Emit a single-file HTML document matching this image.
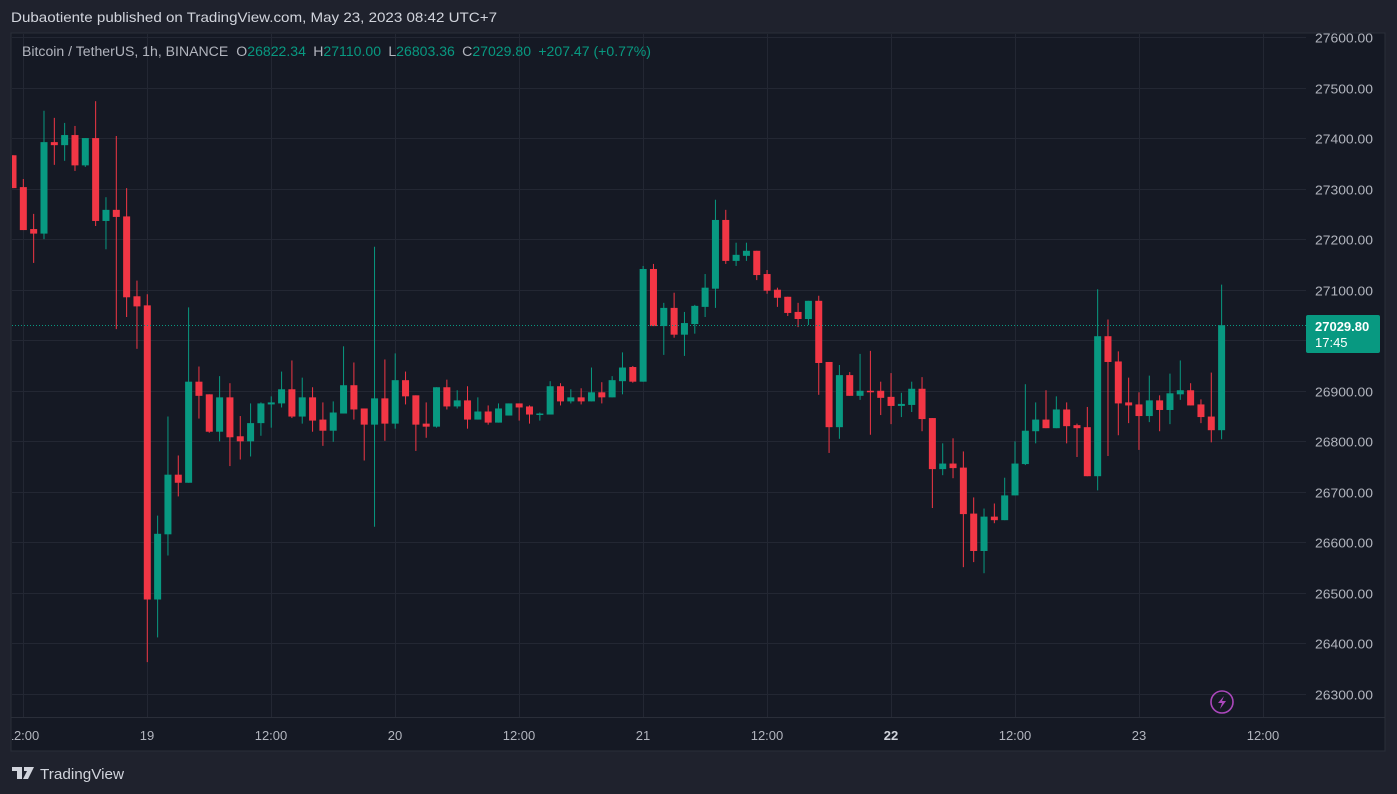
<!DOCTYPE html>
<html><head><meta charset="utf-8"><style>
html,body{margin:0;padding:0;background:#1f222d;width:1397px;height:794px;overflow:hidden;font-family:"Liberation Sans",sans-serif}
svg{position:absolute;left:0;top:0}
</style></head><body>
<svg id="s" width="1397" height="794" xmlns="http://www.w3.org/2000/svg">
<rect x="0" y="0" width="1397" height="794" fill="#1f222d"/>
<rect x="11" y="33" width="1374" height="718" fill="#151924" stroke="#2a2e39" stroke-width="1"/>
<line x1="11" y1="717.5" x2="1385" y2="717.5" stroke="#2a2e39"/>
<g id="grid"></g>
<defs><clipPath id="cp"><rect x="12" y="34" width="1294" height="683"/></clipPath></defs>
<g id="candles" clip-path="url(#cp)"></g>
<line x1="12" y1="325.5" x2="1306" y2="325.5" stroke="#089981" stroke-width="1" stroke-dasharray="1,2"/>
<g id="labels" font-family="Liberation Sans, sans-serif" font-size="13" fill="#b2b5be"></g>
<text x="11" y="22" font-size="14" fill="#d1d4dc" textLength="486" lengthAdjust="spacingAndGlyphs">Dubaotiente published on TradingView.com, May 23, 2023 08:42 UTC+7</text>
<text x="22" y="56" font-size="13.5" fill="#b2b5be" textLength="629" lengthAdjust="spacingAndGlyphs">Bitcoin / TetherUS, 1h, BINANCE  <tspan dx="4">O</tspan><tspan fill="#089981">26822.34</tspan><tspan dx="7">H</tspan><tspan fill="#089981">27110.00</tspan><tspan dx="7">L</tspan><tspan fill="#089981">26803.36</tspan><tspan dx="7">C</tspan><tspan fill="#089981">27029.80</tspan><tspan dx="7" fill="#089981">+207.47 (+0.77%)</tspan></text>
<rect x="1306" y="315" width="74" height="38" rx="2" fill="#089981"/>
<text x="1315" y="331" font-size="13" font-weight="bold" fill="#ffffff">27029.80</text>
<text x="1315" y="347" font-size="13" fill="#ffffff">17:45</text>
<circle cx="1222" cy="702" r="11" fill="none" stroke="#ab47bc" stroke-width="1.6"/>
<path d="M1224 696 L1218 703 L1222 703 L1220 709 L1226 701 L1222 701 Z" fill="#ab47bc"/>
<path d="M12 767 H22 V779 H17 V771 H12 Z M24 767 H34 L28 779 H23 L27 771 H24 Z" fill="#d1d4dc"/>
<text x="40" y="779" font-size="15" fill="#d1d4dc" textLength="84" lengthAdjust="spacingAndGlyphs">TradingView</text>
</svg>
<script>
var d=[[27366,27366,27301,27301],[27303,27319,27218,27218],[27220,27250,27153,27211],[27211,27454,27200,27392],[27392,27440,27347,27386],[27386,27430,27355,27406],[27406,27424,27335,27346],[27346,27400,27343,27400],[27400,27473,27226,27236],[27236,27283,27180,27258],
[27258,27404,27022,27244],[27245,27301,27046,27085],[27087,27118,26983,27067],[27069,27091,26363,26487],[26487,26653,26412,26617],[26616,26849,26574,26734],[26734,26772,26691,26718],[26718,27065,26718,26918],[26918,26948,26845,26890],[26893,26893,26817,26819],
[26819,26929,26800,26887],[26887,26915,26751,26808],[26810,26850,26764,26800],[26800,26875,26770,26836],[26836,26877,26811,26875],[26873,26889,26827,26877],[26875,26938,26867,26903],[26903,26960,26846,26849],[26849,26926,26835,26887],[26887,26907,26819,26841],
[26843,26877,26791,26821],[26821,26879,26799,26857],[26855,26988,26855,26911],[26911,26956,26843,26863],[26865,26865,26762,26833],[26833,27185,26631,26885],[26885,26962,26801,26835],[26835,26974,26825,26921],[26921,26938,26873,26889],[26891,26891,26781,26833],
[26835,26877,26807,26829],[26829,26907,26827,26907],[26907,26922,26863,26869],[26869,26901,26865,26881],[26881,26909,26825,26843],[26843,26887,26843,26859],[26859,26871,26833,26837],[26837,26875,26837,26865],[26851,26875,26851,26875],[26875,26875,26841,26867],
[26869,26871,26835,26853],[26853,26857,26841,26855],[26853,26919,26853,26909],[26909,26915,26871,26879],[26879,26903,26875,26887],[26887,26905,26873,26879],[26879,26946,26879,26897],[26897,26917,26875,26887],[26887,26929,26887,26921],[26919,26976,26893,26946],
[26947,26949,26916,26918],[26918,27147,26918,27141],[27141,27151,27028,27028],[27028,27074,26971,27064],[27064,27094,27005,27011],[27011,27056,26969,27034],[27032,27070,27013,27068],[27066,27131,27046,27104],[27102,27278,27064,27238],[27238,27258,27151,27157],
[27157,27193,27147,27169],[27167,27193,27157,27177],[27177,27177,27119,27129],[27131,27139,27092,27098],[27100,27104,27066,27084],[27086,27086,27048,27054],[27056,27074,27026,27042],[27042,27078,27030,27078],[27078,27088,26892,26955],[26957,26957,26777,26828],
[26828,26951,26805,26931],[26931,26937,26890,26890],[26890,26973,26882,26900],[26900,26979,26813,26898],[26900,26918,26852,26886],[26888,26935,26834,26870],[26870,26896,26848,26874],[26872,26918,26858,26904],[26904,26927,26820,26844],[26846,26846,26668,26745],
[26745,26796,26733,26756],[26756,26806,26727,26747],[26748,26780,26551,26656],[26657,26689,26561,26583],[26583,26667,26539,26651],[26651,26677,26638,26644],[26644,26728,26644,26693],[26693,26800,26693,26756],[26755,26913,26753,26821],[26820,26877,26796,26843],
[26843,26901,26826,26826],[26826,26889,26826,26863],[26863,26877,26796,26830],[26832,26835,26769,26826],[26828,26868,26731,26731],[26731,27101,26703,27008],[27008,27041,26771,26957],[26958,26978,26812,26875],[26877,26926,26836,26871],[26873,26897,26783,26850],
[26850,26930,26838,26881],[26881,26891,26820,26862],[26862,26934,26834,26895],[26893,26960,26882,26901],[26901,26915,26871,26871],[26873,26883,26836,26848],[26849,26936,26798,26822],[26822,27110,26804,27029.8]];
var NS="http://www.w3.org/2000/svg";
function Y(p){return 37+(27600-p)*0.5054;}
function el(t,a,p){var e=document.createElementNS(NS,t);for(var k in a)e.setAttribute(k,a[k]);p.appendChild(e);return e;}
var g=document.getElementById('grid'),c=document.getElementById('candles'),L=document.getElementById('labels');
for(var p=27600;p>=26300;p-=100){var y=Math.round(Y(p))+0.5;el('line',{x1:12,y1:y,x2:1306,y2:y,stroke:'#232733'},g);var t=el('text',{x:1315,y:y+5,textLength:58,lengthAdjust:'spacingAndGlyphs'},L);t.textContent=p.toFixed(2);}
var vx=[23,147,271,395,519,643,767,891,1015,1139,1263],vl=['12:00','19','12:00','20','12:00','21','12:00','22','12:00','23','12:00'];
for(var i=0;i<vx.length;i++){el('line',{x1:vx[i]+0.5,y1:34,x2:vx[i]+0.5,y2:717,stroke:'#232733'},g);}
var cl=document.createElementNS(NS,'clipPath');cl.setAttribute('id','tc');document.querySelector('defs').appendChild(cl);el('rect',{x:12,y:718,width:1294,height:32},cl);
var tg=el('g',{'clip-path':'url(#tc)'},L);
for(var i=0;i<vx.length;i++){var t=el('text',{x:vx[i],y:740,'text-anchor':'middle','font-weight':vl[i]=='22'?'bold':'normal',fill:vl[i]=='22'?'#d1d4dc':'#b2b5be'},tg);t.textContent=vl[i];}
for(var i=0;i<d.length;i++){var o=d[i][0],h=d[i][1],l=d[i][2],cc=d[i][3];var col=cc>=o?'#089981':'#f23645';var x=13+i*10.33;
el('line',{x1:x,y1:Y(h),x2:x,y2:Y(l),stroke:col,'stroke-width':1},c);
var t=Y(Math.max(o,cc)),b=Y(Math.min(o,cc));if(b-t<1.5)b=t+1.5;el('rect',{x:x-3.5,y:t,width:7,height:b-t,fill:col},c);}
</script>
</body></html>
